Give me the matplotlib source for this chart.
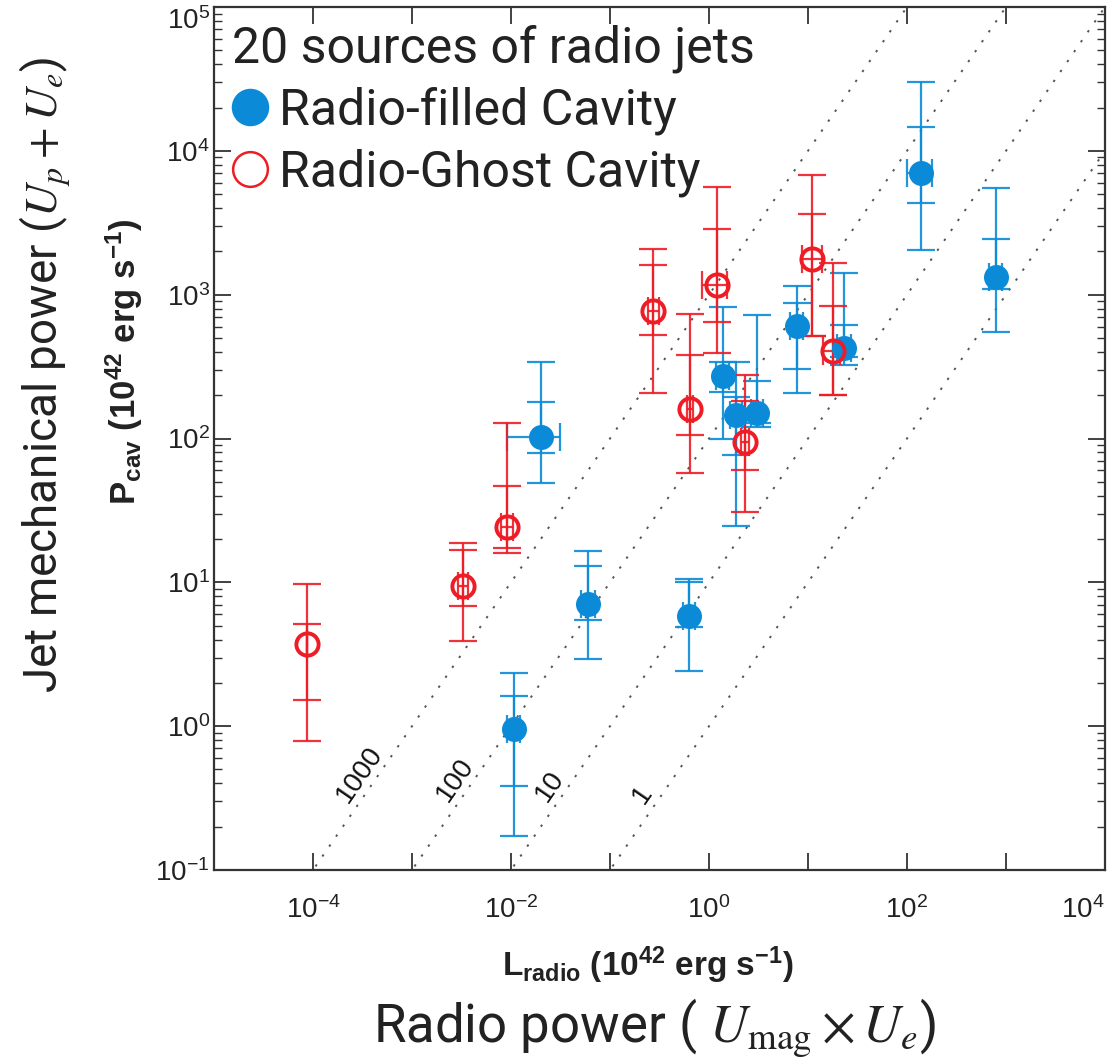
import numpy as np
import matplotlib
matplotlib.use("Agg")
import matplotlib.pyplot as plt
from matplotlib.lines import Line2D

# --- data (units of 1e42 erg/s) ---
filled_L = [0.0201, 0.060, 0.628, 0.0107, 1.38, 1.87, 3.06, 7.74, 23.1, 138, 792]
filled_P = [102, 7.1, 5.8, 0.96, 270, 145, 150, 603, 424, 6990, 1322]
filled_P_lo_outer = [48.7, 2.95, 2.43, 0.173, 100, 24.8, 121, 206, 323, 2040, 547]
filled_P_hi_outer = [339, 16.6, 10.5, 2.36, 817, 339, 719, 1143, 1409, 30080, 5500]
filled_P_lo_inner = [78.8, 5.5, 4.9, 0.385, 209, 76.3, 128, 303, 366, 4330, 1092]
filled_P_hi_inner = [178, 12.9, 10.0, 1.63, 339, 195, 253, 871, 612, 14620, 2430]
filled_L_lo = [0.0091, 0.051, 0.54, 0.0092, 1.18, 1.62, 2.65, 6.6, 19.5, 100, 680]
filled_L_hi = [0.0313, 0.070, 0.73, 0.0124, 1.60, 2.15, 3.5, 9.0, 27.0, 179, 920]

ghost_L = [8.7e-5, 0.00327, 0.0091, 0.272, 0.643, 1.2, 2.31, 11.0, 17.9]
ghost_P = [3.75, 9.5, 24.1, 766, 160, 1163, 94, 1763, 404]
ghost_P_lo_outer = [0.79, 3.94, 16.1, 206, 57.2, 391, 30.6, 514, 200]
ghost_P_hi_outer = [9.8, 18.9, 129, 2070, 731, 5590, 275, 6770, 1653]
ghost_P_lo_inner = [1.53, 6.9, 17.2, 521, 105, 642, 60, 514, 200]
ghost_P_hi_inner = [5.17, 16.9, 46.4, 1600, 379, 2850, 181, 3630, 830]
ghost_L_lo = [8.7e-5, 0.0029, 0.0079, 0.24, 0.60, 0.85, 2.1, 8.7, 14.2]
ghost_L_hi = [8.7e-5, 0.0037, 0.0105, 0.31, 0.69, 1.52, 2.55, 13.8, 21.0]

# constant ratio lines P_cav = k * L_radio
ratios = [1000, 100, 10, 1]
ratio_label_x = [2.99e-4, 2.72e-3, 0.0248, 0.215]

x_ticks = [1e-5, 1e-4, 1e-3, 1e-2, 1e-1, 1e0, 1e1, 1e2, 1e3, 1e4]
x_ticklabels = ['', r'$\mathregular{10^{-4}}$', '', r'$\mathregular{10^{-2}}$', '',
                r'$\mathregular{10^{0}}$', '', r'$\mathregular{10^{2}}$', '', r'$\mathregular{10^{4}}$']
y_ticks = [1e-1, 1e0, 1e1, 1e2, 1e3, 1e4, 1e5]
y_ticklabels = [r'$\mathregular{10^{-1}}$', r'$\mathregular{10^{0}}$', r'$\mathregular{10^{1}}$',
                r'$\mathregular{10^{2}}$', r'$\mathregular{10^{3}}$', r'$\mathregular{10^{4}}$',
                r'$\mathregular{10^{5}}$']

blue = '#0b8bd7'
red = '#ee1c25'

plt.rcParams['font.family'] = ['Liberation Sans', 'DejaVu Sans']
plt.rcParams['mathtext.fontset'] = 'custom'
plt.rcParams['mathtext.rm'] = 'Liberation Sans'
plt.rcParams['mathtext.it'] = 'Liberation Sans:italic'
plt.rcParams['mathtext.bf'] = 'Liberation Sans:bold'

W, H = 1112, 1064
fig = plt.figure(figsize=(W / 100, H / 100), dpi=100)
ax = fig.add_axes([214 / W, 1 - 870 / H, (1105 - 214) / W, (870 - 7) / H])
ax.set_xscale('log')
ax.set_yscale('log')
ax.set_xlim(1e-5, 1e4)
ax.set_ylim(1e-1, 1e5)

# dotted diagonal lines
xx = np.array([1e-6, 1e5])
for k, lx in zip(ratios, ratio_label_x):
    ax.plot(xx, k * xx, ls=(0, (1.2, 5)), color='#555555', lw=1.4, zorder=1)
    ax.text(lx, k * lx * 1.55, str(k), rotation=55.4, ha='center', va='center',
            fontsize=20, color='#111111')


def draw(L, P, plo_o, phi_o, plo_i, phi_i, llo, lhi, color, face):
    L = np.array(L); P = np.array(P)
    ax.errorbar(L, P, yerr=[P - np.array(plo_o), np.array(phi_o) - P], fmt='none',
                ecolor=color, elinewidth=1.6, capsize=10, capthick=1.6, alpha=0.9, zorder=2)
    ax.errorbar(L, P, yerr=[P - np.array(plo_i), np.array(phi_i) - P],
                xerr=[L - np.array(llo), np.array(lhi) - L], fmt='none',
                ecolor=color, elinewidth=1.6, capsize=10, capthick=1.6, alpha=0.9, zorder=2)
    if face == 'none':
        ax.plot(L, P, 'o', ms=16, mfc='none', mec=color, mew=2.8, zorder=4)
    else:
        ax.plot(L, P, 'o', ms=18, mfc=color, mec=color, mew=0, zorder=3)


draw(filled_L, filled_P, filled_P_lo_outer, filled_P_hi_outer, filled_P_lo_inner,
     filled_P_hi_inner, filled_L_lo, filled_L_hi, blue, blue)
draw(ghost_L, ghost_P, ghost_P_lo_outer, ghost_P_hi_outer, ghost_P_lo_inner,
     ghost_P_hi_inner, ghost_L_lo, ghost_L_hi, red, 'none')

# ticks
ax.set_xticks(x_ticks)
ax.set_xticklabels(x_ticklabels)
ax.xaxis.set_minor_locator(matplotlib.ticker.NullLocator())
ax.set_yticks(y_ticks)
ax.set_yticklabels(y_ticklabels)
ax.tick_params(which='both', direction='in', top=True, right=True, color='#333333',
               labelsize=20, labelcolor='#222222')
ax.tick_params(which='major', length=12, width=1.3)
ax.tick_params(which='minor', length=6, width=1.0)
ax.tick_params(axis='x', which='major', pad=19)
ax.tick_params(axis='y', which='major', pad=3)
ax.get_xticklabels()[-1].set_ha('right')
ax.get_yticklabels()[-1].set_va('top')
for s in ax.spines.values():
    s.set_linewidth(1.6)
    s.set_color('#333333')

# legend
handles = [Line2D([], [], marker='o', ls='none', ms=27, mfc=blue, mec=blue, mew=0),
           Line2D([], [], marker='o', ls='none', ms=25, mfc='none', mec=red, mew=1.8)]
leg = ax.legend(handles, ['Radio-filled Cavity', 'Radio-Ghost Cavity'],
                title='20 sources of radio jets', loc='upper left', frameon=False,
                prop={'family': 'Roboto', 'size': 36}, handlelength=0.75,
                handletextpad=0.2, labelspacing=0.27, borderaxespad=0.15,
                borderpad=0.2, alignment='left')
leg.get_title().set_fontfamily('Roboto')
leg.get_title().set_fontsize(36)
leg.get_title().set_color('#222222')
for t in leg.get_texts():
    t.set_color('#222222')

# inner (original) axis labels
fig.text(124 / W, 1 - 362 / H, r'$\mathbf{P_{cav}\ (10^{42}\ erg\ s^{-1})}$',
         rotation=90, ha='center', va='center', fontsize=25, color='#222222')
fig.text(648 / W, 1 - 965 / H, r'$\mathbf{L_{radio}\ (10^{42}\ erg\ s^{-1})}$',
         ha='center', va='center', fontsize=24, color='#222222')

# outer annotation labels
fig.text(45 / W, 1 - 375 / H, r'Jet mechanical power ($U_p + U_e$)', rotation=90,
         ha='center', va='center', fontsize=33, family='Roboto', math_fontfamily='stix',
         color='#222222')
fig.text(654 / W, 1 - 1028 / H, r'Radio power ( $U_{\mathrm{mag}} \times U_e$)',
         ha='center', va='center', fontsize=38, family='Roboto', math_fontfamily='stix',
         color='#222222')

fig.savefig('out.png', dpi=100)
